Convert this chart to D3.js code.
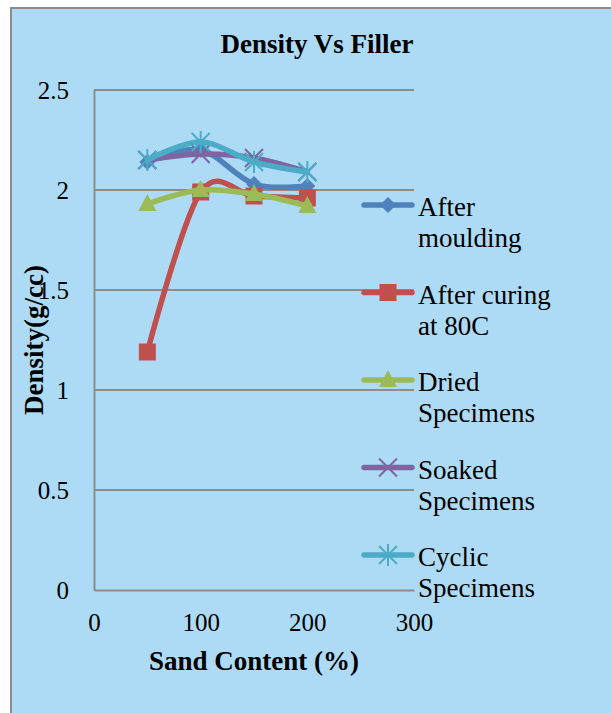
<!DOCTYPE html>
<html>
<head>
<meta charset="utf-8">
<script src="https://cdn.jsdelivr.net/npm/d3@7"></script>
<style>
  body { margin: 0; background: #fff; }
  svg { display: block; }
</style>
</head>
<body>
<div id="chart"></div>
<script>
// data
const sandContent = [50, 100, 150, 200];
const afterMoulding = [2.14, 2.20, 2.03, 2.02];
const afterCuring = [1.19, 1.99, 1.97, 1.96];
const driedSpecimens = [1.93, 2.00, 1.98, 1.92];
const soakedSpecimens = [2.15, 2.18, 2.16, 2.09];
const cyclicSpecimens = [2.15, 2.24, 2.14, 2.09];
const xTicks = [0, 100, 200, 300];
const yTicks = [0, 0.5, 1, 1.5, 2, 2.5];

const series = [
  { name: ["After", "moulding"], values: afterMoulding, color: "#4F81BD", marker: "diamond" },
  { name: ["After curing", "at 80C"], values: afterCuring, color: "#C0504D", marker: "square" },
  { name: ["Dried", "Specimens"], values: driedSpecimens, color: "#9BBB59", marker: "triangle" },
  { name: ["Soaked", "Specimens"], values: soakedSpecimens, color: "#8064A2", marker: "x" },
  { name: ["Cyclic", "Specimens"], values: cyclicSpecimens, color: "#4BACC6", marker: "star" }
];

const W = 611, H = 713;
const font = "'Liberation Serif', 'Times New Roman', serif";
const grid = "#8c8c8c";

const svg = d3.select("#chart").append("svg")
  .attr("width", W).attr("height", H)
  .style("font-family", font);

// chart area background + border
svg.append("rect")
  .attr("x", 11).attr("y", 8)
  .attr("width", W + 20).attr("height", H + 20)
  .attr("fill", "#ADDBF6")
  .attr("stroke", grid).attr("stroke-width", 2);

const x = d3.scaleLinear().domain([0, 300]).range([94, 414]);
const y = d3.scaleLinear().domain([0, 2.5]).range([590, 90]);

// gridlines
svg.append("g").selectAll("line")
  .data(yTicks.filter(d => d > 0))
  .enter().append("line")
  .attr("x1", x(0)).attr("x2", x(300))
  .attr("y1", d => y(d)).attr("y2", d => y(d))
  .attr("stroke", grid).attr("stroke-width", 2);

// axes
const yAxis = svg.append("g")
  .attr("transform", `translate(${x(0)},0)`)
  .call(d3.axisLeft(y).tickValues(yTicks).tickSize(0).tickPadding(25).tickFormat(d => d));
const xAxis = svg.append("g")
  .attr("transform", `translate(0,${y(0)})`)
  .call(d3.axisBottom(x).tickValues(xTicks).tickSize(0).tickPadding(23));
[yAxis, xAxis].forEach(g => {
  g.attr("font-family", null);
  g.select(".domain").attr("stroke", grid).attr("stroke-width", 2);
  g.selectAll("text")
    .style("font-family", font)
    .style("font-size", "25px")
    .attr("fill", "#000");
});

// titles
svg.append("text")
  .attr("x", 317).attr("y", 53)
  .attr("text-anchor", "middle")
  .style("font-size", "27px").style("font-weight", "bold")
  .text("Density Vs Filler");

svg.append("text")
  .attr("x", 254).attr("y", 670)
  .attr("text-anchor", "middle")
  .style("font-size", "27px").style("font-weight", "bold")
  .text("Sand Content (%)");

svg.append("text")
  .attr("transform", "translate(43,340) rotate(-90)")
  .attr("text-anchor", "middle")
  .style("font-size", "27px").style("font-weight", "bold")
  .text("Density(g/cc)");

// markers
function drawMarker(g, type, color) {
  if (type === "diamond") {
    g.append("path").attr("d", "M0,-8L8,0L0,8L-8,0Z").attr("fill", color);
  } else if (type === "square") {
    g.append("rect").attr("x", -8.5).attr("y", -8.5).attr("width", 17).attr("height", 17).attr("fill", color);
  } else if (type === "triangle") {
    g.append("path").attr("d", "M0,-10L9,7L-9,7Z").attr("fill", color);
  } else if (type === "x") {
    g.append("path").attr("d", "M-9,-9L9,9M-9,9L9,-9")
      .attr("stroke", color).attr("stroke-width", 2).attr("fill", "none");
  } else if (type === "star") {
    g.append("path").attr("d", "M-9,-9L9,9M-9,9L9,-9M0,-11L0,11")
      .attr("stroke", color).attr("stroke-width", 2).attr("fill", "none");
  }
}

const line = d3.line()
  .curve(d3.curveCardinal.tension(0))
  .x(d => x(d[0]))
  .y(d => y(d[1]));

series.forEach(s => {
  const pts = sandContent.map((c, i) => [c, s.values[i]]);
  svg.append("path")
    .attr("d", line(pts))
    .attr("fill", "none")
    .attr("stroke", s.color)
    .attr("stroke-width", 5.5)
    .attr("stroke-linecap", "round");
  pts.forEach(p => {
    const g = svg.append("g").attr("transform", `translate(${x(p[0])},${y(p[1])})`);
    drawMarker(g, s.marker, s.color);
  });
});

// legend
const legend = svg.append("g");
series.forEach((s, i) => {
  const ly = 205 + i * 87.5;
  const g = legend.append("g").attr("transform", `translate(0,${ly})`);
  g.append("line")
    .attr("x1", 364).attr("x2", 412)
    .attr("stroke", s.color).attr("stroke-width", 5.5).attr("stroke-linecap", "round");
  const m = g.append("g").attr("transform", "translate(388,0)");
  drawMarker(m, s.marker, s.color);
  s.name.forEach((t, j) => {
    g.append("text")
      .attr("x", 418).attr("y", 11 + j * 31)
      .style("font-size", "27px")
      .text(t);
  });
});
</script>
</body>
</html>
